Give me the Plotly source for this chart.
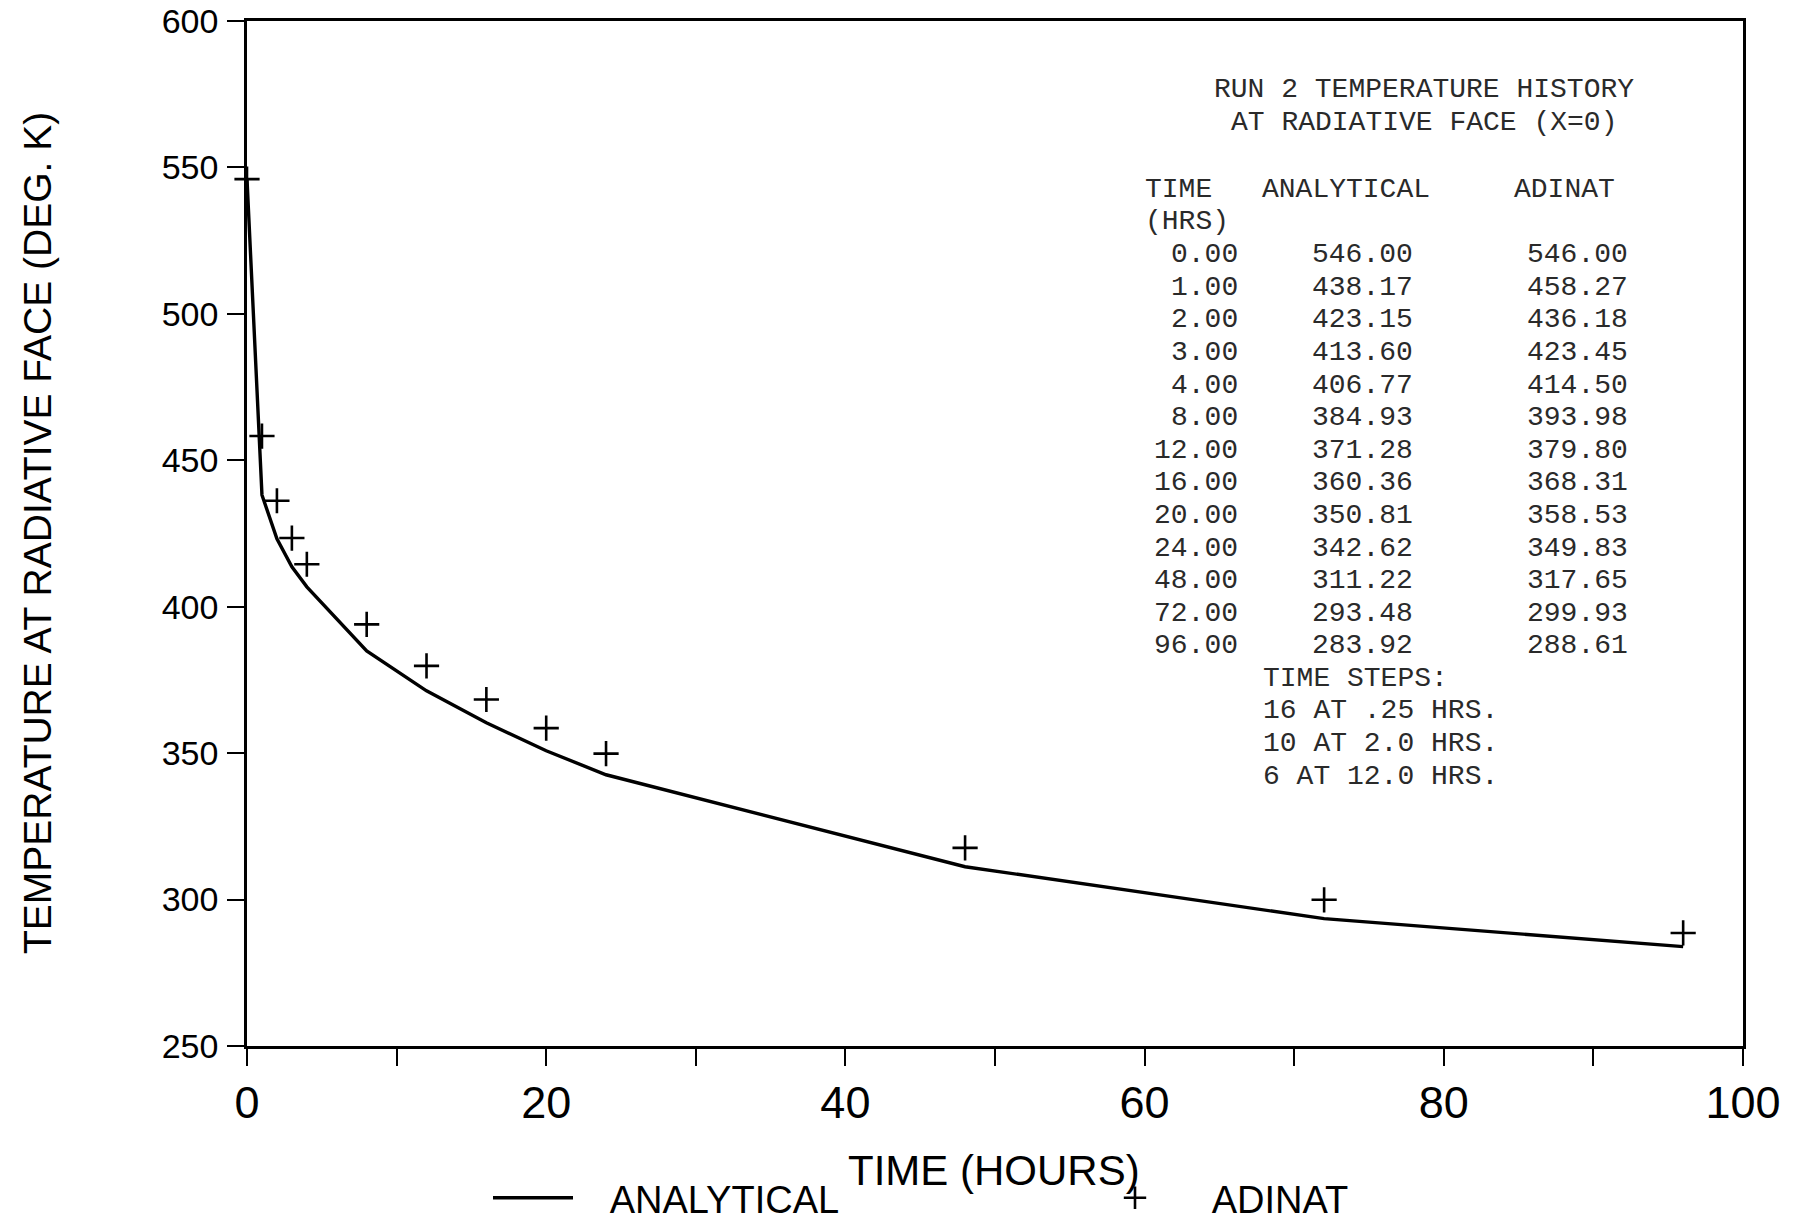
import plotly.graph_objects as go

# ---------------- data ----------------
time_hrs = [0, 1, 2, 3, 4, 8, 12, 16, 20, 24, 48, 72, 96]
analytical = [546.00, 438.17, 423.15, 413.60, 406.77, 384.93, 371.28,
              360.36, 350.81, 342.62, 311.22, 293.48, 283.92]
adinat = [546.00, 458.27, 436.18, 423.45, 414.50, 393.98, 379.80,
          368.31, 358.53, 349.83, 317.65, 299.93, 288.61]
x_ticks = [0, 20, 40, 60, 80, 100]
y_ticks = [250, 300, 350, 400, 450, 500, 550, 600]
table_title = ["RUN 2 TEMPERATURE HISTORY", "AT RADIATIVE FACE (X=0)"]
table_header = ["TIME", "ANALYTICAL", "ADINAT"]
time_steps = ["TIME STEPS:", "16 AT .25 HRS.", "10 AT 2.0 HRS.", "6 AT 12.0 HRS."]

# ---------------- layout geometry (screen pixels) ----------------
OFF = 0                      # page body margin is removed via post_script
W, H = 1799 - OFF, 1221 - OFF
PLOT_L, PLOT_R, PLOT_T, PLOT_B = 247, 1743, 21, 1046   # screen coords of plot area
L, T = PLOT_L - OFF, PLOT_T - OFF
R, B = W - (PLOT_R - OFF), H - (PLOT_B - OFF)
PW, PH = W - L - R, H - T - B


def px(xs, ys):
    """screen pixel -> paper coordinates"""
    xf, yf = xs - OFF, ys - OFF
    return (xf - L) / PW, (H - B - yf) / PH


NB = "\u00a0" * 3

fig = go.Figure()
fig.add_trace(go.Scatter(
    x=time_hrs, y=analytical, mode="lines", name=NB + "ANALYTICAL",
    line=dict(color="black", width=3.4), cliponaxis=False))
fig.add_trace(go.Scatter(
    x=time_hrs, y=adinat, mode="markers", name=NB + "ADINAT",
    marker=dict(symbol="cross-thin", size=18, line=dict(color="black", width=2.6)),
    cliponaxis=False))

sans = "Liberation Sans, Arial, sans-serif"
mono = "Liberation Mono, DejaVu Sans Mono, monospace"
fig.update_xaxes(range=[0, 100], tickvals=x_ticks, ticktext=[str(v) for v in x_ticks],
                 ticks="outside", ticklen=17, tickwidth=2, tickcolor="black",
                 minor=dict(dtick=10, tick0=0, ticks="outside", ticklen=17, tickwidth=2, tickcolor="black"),
                 showline=True, linecolor="black", linewidth=2.6, mirror=True,
                 showgrid=False, zeroline=False, ticklabeloverflow="allow",
                 tickfont=dict(family=sans, size=45, color="black"), ticklabelstandoff=-2)
fig.update_yaxes(range=[250, 600], tickvals=y_ticks, ticktext=[str(v) for v in y_ticks],
                 ticks="outside", ticklen=17, tickwidth=2, tickcolor="black",
                 showline=True, linecolor="black", linewidth=2.6, mirror=True,
                 showgrid=False, zeroline=False, ticklabeloverflow="allow",
                 tickfont=dict(family=sans, size=34, color="black"), ticklabelstandoff=2)

ann = []
# axis titles
x0, y0 = px(994, 1170)
ann.append(dict(text="TIME (HOURS)", x=x0, y=y0, xref="paper", yref="paper",
                showarrow=False, xanchor="center", yanchor="middle",
                font=dict(family=sans, size=42, color="black")))
x0, y0 = px(37, 533)
ann.append(dict(text="TEMPERATURE AT RADIATIVE FACE (DEG. K)", x=x0, y=y0,
                xref="paper", yref="paper", showarrow=False, textangle=-90,
                xanchor="center", yanchor="middle",
                font=dict(family=sans, size=39, color="black")))

tfont = dict(family=mono, size=28, color="#2a2a2a")
# table title
for i, line in enumerate(table_title):
    x0, y0 = px(1424, 89.5 + i * 33.3)
    ann.append(dict(text=line, x=x0, y=y0, xref="paper", yref="paper", showarrow=False,
                    xanchor="center", yanchor="middle", font=tfont, borderpad=0))
# header
hdr_left = [1144, 1261, 1513]
for h, xl in zip(table_header, hdr_left):
    x0, y0 = px(xl, 189.3)
    ann.append(dict(text=h, x=x0, y=y0, xref="paper", yref="paper", showarrow=False,
                    xanchor="left", yanchor="middle", font=tfont, borderpad=0))
x0, y0 = px(1144, 221.4)
ann.append(dict(text="(HRS)", x=x0, y=y0, xref="paper", yref="paper", showarrow=False,
                xanchor="left", yanchor="middle", font=tfont, borderpad=0))
# rows
col_right = [1239, 1413.5, 1629]
for i, (t, a, d) in enumerate(zip(time_hrs, analytical, adinat)):
    yrow = 254.7 + i * 32.6
    for txt, xr in zip([f"{t:.2f}", f"{a:.2f}", f"{d:.2f}"], col_right):
        x0, y0 = px(xr, yrow)
        ann.append(dict(text=txt, x=x0, y=y0, xref="paper", yref="paper", showarrow=False,
                        xanchor="right", yanchor="middle", font=tfont, borderpad=0))
# time steps
for i, line in enumerate(time_steps):
    x0, y0 = px(1262, 678 + i * 32.9)
    ann.append(dict(text=line, x=x0, y=y0, xref="paper", yref="paper", showarrow=False,
                    xanchor="left", yanchor="middle", font=tfont, borderpad=0))

lx, ly = px(488, 1198)
fig.update_layout(
    width=W, height=H,
    margin=dict(l=L, r=R, t=T, b=B, autoexpand=False),
    paper_bgcolor="white", plot_bgcolor="white",
    annotations=ann,
    showlegend=True,
    legend=dict(orientation="h", x=lx, y=ly, xanchor="left", yanchor="middle",
                font=dict(family=sans, size=38, color="black"),
                entrywidth=507, entrywidthmode="pixels", itemwidth=80,
                bgcolor="rgba(0,0,0,0)", traceorder="normal"),
)

fig.write_html("out.html", config={"displayModeBar": False},
               post_script="document.body.style.margin='0';")
